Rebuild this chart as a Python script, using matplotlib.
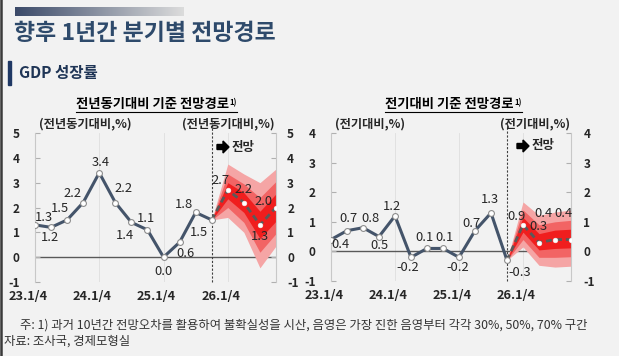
import numpy as np
import matplotlib
matplotlib.use("Agg")
import matplotlib.pyplot as plt
from matplotlib.lines import Line2D
from matplotlib.patches import Polygon, Rectangle
from matplotlib.colors import LinearSegmentedColormap
import matplotlib.transforms as mtransforms

plt.rcParams['font.family'] = ['Noto Sans CJK KR', 'DejaVu Sans']

# ---------------- data ----------------
quarters = ['23Q1', '23Q2', '23Q3', '23Q4', '24Q1', '24Q2', '24Q3', '24Q4',
            '25Q1', '25Q2', '25Q3', '25Q4', '26Q1', '26Q2', '26Q3', '26Q4']
xtick_labels = ['23.1/4', '24.1/4', '25.1/4', '26.1/4']
xtick_idx = [0, 4, 8, 12]

# year-on-year
yoy_actual = [1.3, 1.2, 1.5, 2.2, 3.4, 2.2, 1.4, 1.1, 0.0, 0.6, 1.8, 1.5]
yoy_fcst = [1.5, 2.7, 2.2, 1.3, 2.0]          # from 25Q4 (last actual) to 26Q4
yoy_lo70 = [1.5, 1.60, 1.00, -0.43, 0.45]
yoy_hi70 = [1.5, 3.75, 3.35, 3.00, 3.55]
yoy_lo50 = [1.5, 2.00, 1.40, 0.20, 0.95]
yoy_hi50 = [1.5, 3.35, 2.95, 2.40, 3.05]
yoy_lo30 = [1.5, 2.35, 1.80, 0.75, 1.45]
yoy_hi30 = [1.5, 3.00, 2.60, 1.85, 2.55]

# quarter-on-quarter
qoq_actual = [0.4, 0.7, 0.8, 0.5, 1.2, -0.2, 0.1, 0.1, -0.2, 0.7, 1.3, -0.3]
qoq_fcst = [-0.3, 0.9, 0.3, 0.4, 0.4]
qoq_lo70 = [-0.3, 0.15, -0.47, -0.53, -0.50]
qoq_hi70 = [-0.3, 1.67, 1.22, 1.33, 1.40]
qoq_lo50 = [-0.3, 0.40, -0.20, -0.20, -0.18]
qoq_hi50 = [-0.3, 1.40, 0.90, 1.00, 1.05]
qoq_lo30 = [-0.3, 0.65, 0.05, 0.10, 0.12]
qoq_hi30 = [-0.3, 1.15, 0.60, 0.72, 0.75]

yoy_labels = ['1.3', '1.2', '1.5', '2.2', '3.4', '2.2', '1.4', '1.1', '0.0', '0.6', '1.8', '1.5',
              '2.7', '2.2', '1.3', '2.0']
qoq_labels = ['0.4', '0.7', '0.8', '0.5', '1.2', '-0.2', '0.1', '0.1', '-0.2', '0.7', '1.3', '-0.3',
              '0.9', '0.3', '0.4', '0.4']

# label offsets in pixels (dx, dy)
yoy_off = [(9, 7), (-1, -10), (-7, 11), (-11, 9), (1, 10), (8, 14), (-6, -13), (-1, 11),
           (0, -14), (6, -11), (-12, 8), (-13, -13), (-7, 10), (0, 13), (0, -12), (-12, 6)]
qoq_off = [(9, -5), (1, 12), (7, 9), (0, -9), (-3, 9), (-3, -10), (-3, 11), (2, 11),
           (-1, -10), (-4, 7), (-1, 13), (13, -12), (-6, 8), (-1, 16), (-12, 26), (-8, 26)]

# ---------------- figure ----------------
W, H = 619, 356
BG = '#f2f2f2'
fig = plt.figure(figsize=(W / 100, H / 100), dpi=100, facecolor=BG)


def fx(x):
    return x / W


def fy(y):
    return 1 - y / H


NAVY = '#2e4a6b'
LINE = '#44546a'
TXT = '#262626'
C70, C50, C30 = '#f5a5a5', '#f26464', '#f01e1e'

# left border
fig.add_artist(Line2D([fx(1), fx(1)], [0, 1], color='#3a3a3a', lw=1.8))

# gradient bar
gax = fig.add_axes([fx(15), fy(16), fx(168), 9 / H])
grad = np.linspace(0, 1, 256).reshape(1, -1)
cmap = LinearSegmentedColormap.from_list('g', ['#3b4a69', '#dcdcdc'])
gax.imshow(grad, aspect='auto', cmap=cmap)
gax.axis('off')

fig.text(fx(14), fy(34), '향후 1년간 분기별 전망경로', fontsize=16.5, fontweight='bold',
         color=NAVY, va='center', ha='left')

fig.add_artist(Rectangle((fx(8), fy(85)), fx(2.5), 24 / H, color='#1f3864',
                         transform=fig.transFigure))
fig.text(fx(19), fy(73), 'GDP 성장률', fontsize=11.2, fontweight='bold',
         color='#1f3556', va='center', ha='left')


def make_panel(rect, actual, fcst, bands, labels, offs, ylim, yticks,
               lpad, rpad, unit_left, unit_right):
    ax = fig.add_axes(rect)
    ax.set_facecolor(BG)
    n = len(actual)
    xa = np.arange(n)
    xf = np.arange(n - 1, n - 1 + len(fcst))
    ax.set_xlim(0, len(quarters) - 1)
    ax.set_ylim(*ylim)

    for xv in [4, 8, 12]:
        ax.axvline(xv, color='#dedede', lw=0.6, zorder=0)
    ax.axhline(0, color='#595959', lw=1.0, zorder=1)

    for (lo, hi), c in zip(bands, [C70, C50, C30]):
        ax.fill_between(xf, lo, hi, color=c, lw=0, zorder=2)

    ax.axvline(n - 1, ymin=0, ymax=1.075, color='#404040', lw=0.8,
               ls=(0, (2, 1.5)), clip_on=False, zorder=3)

    ax.plot(xa, actual, color=LINE, lw=2.2, zorder=4, solid_capstyle='round')
    ax.plot(xa, actual, ls='none', marker='o', ms=4.2, mfc='white', mec='#8c8c8c',
            mew=0.8, zorder=5)
    ax.plot(xf, fcst, color='#5a5a5a', lw=2.0, ls=(0, (2.2, 1.4)), zorder=4)
    ax.plot(xf[1:], fcst[1:], ls='none', marker='o', ms=3.4, mfc='white', mec='#f0f0f0',
            mew=0.4, zorder=5)

    allv = list(actual) + list(fcst[1:])
    for i, (v, lab, (dx, dy)) in enumerate(zip(allv, labels, offs)):
        ax.annotate(lab, (i, v), xytext=(dx, dy), textcoords='offset pixels',
                    ha='center', va='center', fontsize=9.3, color=TXT, zorder=6)

    for s in ['top', 'bottom']:
        ax.spines[s].set_visible(False)
    for s in ['left', 'right']:
        ax.spines[s].set_color('#c8c8c8')
        ax.spines[s].set_linewidth(0.8)

    ax.set_yticks(yticks)
    ax.set_yticklabels([str(t) for t in yticks])
    ax.tick_params(axis='y', which='both', direction='in', length=3.5, color='#b0b0b0',
                   left=True, right=True, labelleft=True, labelright=True,
                   labelsize=8.5, labelcolor=TXT)
    ax.tick_params(axis='y', pad=lpad)
    for t in ax.yaxis.get_major_ticks():
        t.label1.set_fontweight('bold')
        t.label2.set_fontweight('bold')
        t.label2.set_transform(t.label2.get_transform() +
                               mtransforms.ScaledTranslation((rpad - lpad) / 72, 0,
                                                             fig.dpi_scale_trans))

    ax.set_xticks(xtick_idx)
    ax.set_xticklabels(xtick_labels, fontsize=9.2, fontweight='bold', color=TXT)
    ax.tick_params(axis='x', length=0, pad=6)
    for lab in ax.get_xticklabels():
        lab.set_transform(lab.get_transform() +
                          mtransforms.ScaledTranslation(-0.07, 0, fig.dpi_scale_trans))

    # unit labels
    ax.text(0.015, 1.06, unit_left, transform=ax.transAxes, ha='left', va='center',
            fontsize=8.8, fontweight='bold', color=TXT)
    ax.text(0.995, 1.06, unit_right, transform=ax.transAxes, ha='right', va='center',
            fontsize=8.8, fontweight='bold', color=TXT)
    return ax


ax1 = make_panel([fx(35), fy(282), fx(241), 149 / H], yoy_actual, yoy_fcst,
                 [(yoy_lo70, yoy_hi70), (yoy_lo50, yoy_hi50), (yoy_lo30, yoy_hi30)],
                 yoy_labels, yoy_off, (-1, 5), [-1, 0, 1, 2, 3, 4, 5], 11, 8,
                 '(전년동기대비,%)', '(전년동기대비,%)')
ax2 = make_panel([fx(331), fy(281), fx(240), 148 / H], qoq_actual, qoq_fcst,
                 [(qoq_lo70, qoq_hi70), (qoq_lo50, qoq_hi50), (qoq_lo30, qoq_hi30)],
                 qoq_labels, qoq_off, (-1, 4), [-1, 0, 1, 2, 3, 4], 11, 9,
                 '(전기대비,%)', '(전기대비,%)')


def arrow_label(x0, yc):
    pts = [(x0, yc - 2.5), (x0 + 6, yc - 2.5), (x0 + 6, yc - 6), (x0 + 12, yc),
           (x0 + 6, yc + 6), (x0 + 6, yc + 2.5), (x0, yc + 2.5)]
    fig.add_artist(Polygon([(fx(a), fy(b)) for a, b in pts], closed=True,
                           transform=fig.transFigure, color='black'))
    fig.text(fx(x0 + 15), fy(yc), '전망', fontsize=9, fontweight='bold',
             color=TXT, ha='left', va='center')


arrow_label(217, 147)
arrow_label(517, 146)

# subtitles with underline and superscript
fig.canvas.draw()
renderer = fig.canvas.get_renderer()


def subtitle(xc, yc, s):
    t = fig.text(fx(xc), fy(yc), s, fontsize=9.6, fontweight='bold', color='black',
                 ha='center', va='center')
    bb = t.get_window_extent(renderer)
    sup = fig.text(bb.x1 / W + 1 / W, bb.y1 / H - 1 / H, '1)', fontsize=5.5, fontweight='bold',
                   color='black', ha='left', va='top')
    sb = sup.get_window_extent(renderer)
    fig.add_artist(Line2D([bb.x0 / W, sb.x1 / W], [bb.y0 / H - 1.0 / H] * 2,
                          color='black', lw=0.8))


subtitle(152, 104, '전년동기대비 기준 전망경로')
subtitle(449, 104, '전기대비 기준 전망경로')

fig.text(fx(20), fy(325),
         '주: 1) 과거 10년간 전망오차를 활용하여 불확실성을 시산, 음영은 가장 진한 음영부터 각각 30%, 50%, 70% 구간',
         fontsize=8.9, color='#333333', ha='left', va='center')
fig.text(fx(4), fy(341), '자료: 조사국, 경제모형실', fontsize=8.9, color='#333333',
         ha='left', va='center')

fig.savefig('out.png', dpi=100, facecolor=BG)
